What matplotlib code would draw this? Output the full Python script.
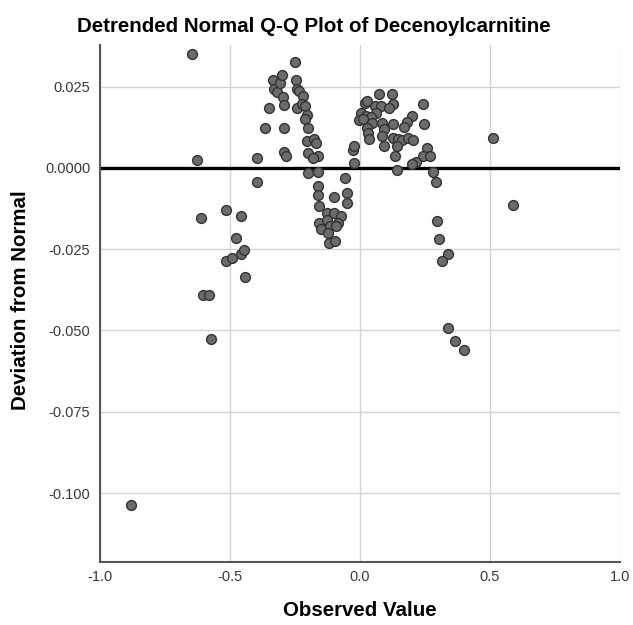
import matplotlib
matplotlib.use("Agg")
import matplotlib.pyplot as plt

plt.rcParams['font.family'] = ['Liberation Sans', 'DejaVu Sans']

observed = [-0.881, -0.646, -0.627, -0.612, -0.604, -0.581, -0.573, -0.515, -0.515, -0.492,
            -0.477, -0.458, -0.458, -0.446, -0.442, -0.396, -0.396, -0.365, -0.350, -0.335,
            -0.331, -0.319, -0.308, -0.300, -0.296, -0.292, -0.292, -0.292, -0.285, -0.250,
            -0.246, -0.242, -0.235, -0.242, -0.219, -0.223, -0.212, -0.204, -0.212, -0.200,
            -0.204, -0.177, -0.169, -0.200, -0.162, -0.181, -0.200, -0.162, -0.162, -0.162,
            -0.100, -0.050, -0.050, -0.058, -0.158, -0.127, -0.100, -0.073, -0.158, -0.127,
            -0.085, -0.150, -0.115, -0.092, -0.123, -0.119, -0.096, -0.027, -0.023, -0.023,
            0.073, 0.123, 0.019, 0.027, 0.058, 0.081, 0.127, 0.112, 0.004, 0.023,
            0.062, 0.042, -0.004, 0.012, 0.046, 0.085, 0.127, 0.027, 0.092, 0.031,
            0.085, 0.035, 0.127, 0.146, 0.162, 0.185, 0.204, 0.142, 0.092, 0.135,
            0.242, 0.200, 0.181, 0.169, 0.246, 0.258, 0.242, 0.269, 0.215, 0.200,
            0.142, 0.281, 0.292, 0.296, 0.304, 0.338, 0.315, 0.338, 0.365, 0.400,
            0.512, 0.588]
deviation = [-0.1037, 0.0351, 0.0025, -0.0154, -0.0391, -0.0391, -0.0526, -0.0129, -0.0286, -0.0277,
             -0.0215, -0.0148, -0.0265, -0.0252, -0.0335, 0.0031, -0.0043, 0.0123, 0.0185, 0.0271,
             0.0243, 0.0234, 0.0262, 0.0286, 0.0218, 0.0194, 0.0123, 0.0049, 0.0037, 0.0326,
             0.0271, 0.0243, 0.0237, 0.0185, 0.0222, 0.0197, 0.0191, 0.0163, 0.0151, 0.0123,
             0.0083, 0.0089, 0.0077, 0.0046, 0.0037, 0.0031, -0.0015, -0.0012, -0.0055, -0.0083,
             -0.0089, -0.0077, -0.0108, -0.0031, -0.0117, -0.0138, -0.0138, -0.0148, -0.0169, -0.0160,
             -0.0169, -0.0188, -0.0178, -0.0178, -0.0200, -0.0231, -0.0225, 0.0055, 0.0068, 0.0015,
             0.0228, 0.0228, 0.0200, 0.0206, 0.0191, 0.0191, 0.0197, 0.0185, 0.0169, 0.0160,
             0.0169, 0.0157, 0.0148, 0.0151, 0.0138, 0.0138, 0.0135, 0.0123, 0.0120, 0.0108,
             0.0098, 0.0089, 0.0092, 0.0089, 0.0086, 0.0092, 0.0086, 0.0068, 0.0068, 0.0037,
             0.0197, 0.0160, 0.0142, 0.0126, 0.0135, 0.0062, 0.0037, 0.0037, 0.0018, 0.0012,
             -0.0006, -0.0012, -0.0043, -0.0163, -0.0218, -0.0265, -0.0286, -0.0492, -0.0532, -0.0560,
             0.0092, -0.0114]

xticks = [-1.0, -0.5, 0.0, 0.5, 1.0]
xtick_labels = ['-1.0', '-0.5', '0.0', '0.5', '1.0']
yticks = [0.025, 0.0, -0.025, -0.050, -0.075, -0.100]
ytick_labels = ['0.025', '0.0000', '-0.025', '-0.050', '-0.075', '-0.100']

fig = plt.figure(figsize=(6.33, 6.25), dpi=100)
ax = fig.add_axes([0.158, 0.1008, 0.821, 0.8272])

ax.grid(True, color='#d4d4d4', linewidth=1.0)
ax.set_axisbelow(True)
ax.axhline(0, color='black', linewidth=2.4, zorder=2)
ax.scatter(observed, deviation, s=50, facecolor='#6b6b6b', edgecolor='#333333',
           linewidth=1.0, zorder=3)

ax.set_xlim(-1.0, 1.0)
ax.set_ylim(-0.1212, 0.0378)
ax.set_xticks(xticks)
ax.set_xticklabels(xtick_labels)
ax.set_yticks(yticks)
ax.set_yticklabels(ytick_labels)
ax.tick_params(length=0, labelsize=10.5, labelcolor='#3a3a3a')
ax.tick_params(axis='y', pad=7)
ax.tick_params(axis='x', pad=6)

for side in ['top', 'right']:
    ax.spines[side].set_visible(False)
for side in ['left', 'bottom']:
    ax.spines[side].set_color('#555555')
    ax.spines[side].set_linewidth(1.5)

fig.text(0.495, 0.958, 'Detrended Normal Q-Q Plot of Decenoylcarnitine', ha='center', va='center',
         fontsize=14.8, fontweight='bold')
fig.text(0.568, 0.024, 'Observed Value', ha='center', va='center', fontsize=14.8, fontweight='bold')
fig.text(0.032, 0.52, 'Deviation from Normal', ha='center', va='center', rotation=90,
         fontsize=14.8, fontweight='bold')

fig.savefig('out.png', dpi=100)
